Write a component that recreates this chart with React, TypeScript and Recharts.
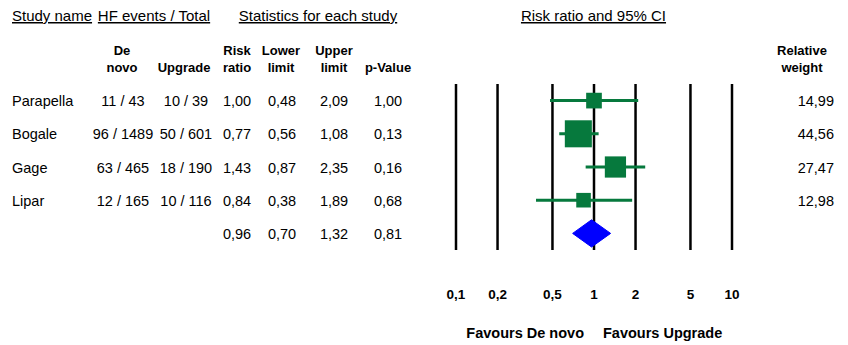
import React from "react";
import {
  ComposedChart,
  Scatter,
  ErrorBar,
  Area,
  XAxis,
  YAxis,
  ZAxis,
  CartesianGrid,
} from "recharts";

/* ================================================================
   Forest plot -- HF events, De novo vs Upgrade (risk ratio, 95% CI)
   ================================================================ */

const studies = ["Parapella", "Bogale", "Gage", "Lipar"];
const deNovoEvents = [11, 96, 63, 12];
const deNovoTotal = [43, 1489, 465, 165];
const upgradeEvents = [10, 50, 18, 10];
const upgradeTotal = [39, 601, 190, 116];
const riskRatio = [1.0, 0.77, 1.43, 0.84];
const lowerLimit = [0.48, 0.56, 0.87, 0.38];
const upperLimit = [2.09, 1.08, 2.35, 1.89];
const pValue = [1.0, 0.13, 0.16, 0.68];
const relativeWeight = [14.99, 44.56, 27.47, 12.98];

const summaryRatio = 0.96;
const summaryLower = 0.7;
const summaryUpper = 1.32;
const summaryP = 0.81;

const xTicks = [0.1, 0.2, 0.5, 1, 2, 5, 10];

/* ── layout ─────────────────────────────────────────────────── */

const W = 848;
const H = 345;
const PLOT = { left: 456, right: 732, top: 84, bottom: 250 };
const ROWS = 5;
const rowY = (i: number) =>
  PLOT.top + (i + 0.5) * ((PLOT.bottom - PLOT.top) / ROWS);

const GREEN = "#06793d";
const BLUE = "#0000ff";
const FONT = "'Liberation Sans', Arial, sans-serif";
const DIAMOND_HALF = 0.41; // half height of the summary diamond, in row units

const fmt = (v: number) => v.toFixed(2).replace(".", ",");

/* ── chart tables built from the arrays ─────────────────────── */

const studyPoints = studies.map((name, i) => ({
  name,
  x: riskRatio[i],
  y: i,
  weight: relativeWeight[i],
  err: [riskRatio[i] - lowerLimit[i], upperLimit[i] - riskRatio[i]],
}));

const summaryRow = studies.length;
const diamond = [
  { x: summaryLower, band: [summaryRow, summaryRow] },
  {
    x: summaryRatio,
    band: [summaryRow - DIAMOND_HALF, summaryRow + DIAMOND_HALF],
  },
  { x: summaryUpper, band: [summaryRow, summaryRow] },
];

/* ── tick ───────────────────────────────────────────────────── */

const RatioTick = (props: any) => {
  const { x, y, payload } = props;
  return (
    <text
      x={x}
      y={y + 40.5}
      textAnchor="middle"
      fontFamily={FONT}
      fontSize={13.5}
      fontWeight="bold"
      fill="#000"
    >
      {String(payload.value).replace(".", ",")}
    </text>
  );
};

/* ── table text ─────────────────────────────────────────────── */

const TableText: React.FC = () => {
  const reg = { fontFamily: FONT, fontSize: 14.5, fill: "#000" };
  const title = { ...reg, fontSize: 15, textDecoration: "underline" };
  const bold = { fontFamily: FONT, fontSize: 13, fontWeight: "bold", fill: "#000" };
  const head = (x: number, l1: string, l2: string) => (
    <g key={l1 + l2}>
      {l1 && (
        <text x={x} y={54.5} textAnchor="middle" {...bold}>
          {l1}
        </text>
      )}
      <text x={x} y={72} textAnchor="middle" {...bold}>
        {l2}
      </text>
    </g>
  );

  return (
    <svg
      width={W}
      height={H}
      style={{ position: "absolute", left: 0, top: 0, pointerEvents: "none" }}
    >
      {/* group titles */}
      <text x={12} y={21} {...title}>
        Study name
      </text>
      <text x={154} y={21} textAnchor="middle" {...title}>
        HF events / Total
      </text>
      <text x={318} y={21} textAnchor="middle" {...title}>
        Statistics for each study
      </text>
      <text x={593.5} y={21} textAnchor="middle" {...title}>
        Risk ratio and 95% CI
      </text>

      {/* column headers */}
      {head(122, "De", "novo")}
      {head(184, "", "Upgrade")}
      {head(237, "Risk", "ratio")}
      {head(281, "Lower", "limit")}
      {head(334, "Upper", "limit")}
      {head(388, "", "p-Value")}
      {head(802, "Relative", "weight")}

      {/* study rows */}
      {studies.map((name, i) => {
        const y = rowY(i) + 5.5;
        return (
          <g key={name}>
            <text x={12} y={y} {...reg}>
              {name}
            </text>
            <text x={123} y={y} textAnchor="middle" {...reg}>
              {`${deNovoEvents[i]} / ${deNovoTotal[i]}`}
            </text>
            <text x={186} y={y} textAnchor="middle" {...reg}>
              {`${upgradeEvents[i]} / ${upgradeTotal[i]}`}
            </text>
            <text x={237} y={y} textAnchor="middle" {...reg}>
              {fmt(riskRatio[i])}
            </text>
            <text x={282} y={y} textAnchor="middle" {...reg}>
              {fmt(lowerLimit[i])}
            </text>
            <text x={334} y={y} textAnchor="middle" {...reg}>
              {fmt(upperLimit[i])}
            </text>
            <text x={388} y={y} textAnchor="middle" {...reg}>
              {fmt(pValue[i])}
            </text>
            <text x={834} y={y} textAnchor="end" {...reg}>
              {fmt(relativeWeight[i])}
            </text>
          </g>
        );
      })}

      {/* summary row */}
      <text x={237} y={rowY(summaryRow) + 5.5} textAnchor="middle" {...reg}>
        {fmt(summaryRatio)}
      </text>
      <text x={282} y={rowY(summaryRow) + 5.5} textAnchor="middle" {...reg}>
        {fmt(summaryLower)}
      </text>
      <text x={334} y={rowY(summaryRow) + 5.5} textAnchor="middle" {...reg}>
        {fmt(summaryUpper)}
      </text>
      <text x={388} y={rowY(summaryRow) + 5.5} textAnchor="middle" {...reg}>
        {fmt(summaryP)}
      </text>

      {/* favours labels */}
      <text x={584} y={338} textAnchor="end" {...bold} fontSize={14.5}>
        Favours De novo
      </text>
      <text x={603} y={338} {...bold} fontSize={14.5}>
        Favours Upgrade
      </text>
    </svg>
  );
};

/* ── component ──────────────────────────────────────────────── */

const App: React.FC = () => {
  return (
    <div
      style={{
        position: "absolute",
        left: 0,
        top: 0,
        width: W,
        height: H,
        background: "#fff",
      }}
    >
      <ComposedChart
        width={W}
        height={H}
        data={diamond}
        margin={{
          top: PLOT.top,
          left: PLOT.left,
          right: W - PLOT.right,
          bottom: H - PLOT.bottom - 40,
        }}
      >
        <CartesianGrid
          vertical
          horizontal={false}
          stroke="#000"
          strokeWidth={2.5}
        />
        <XAxis
          dataKey="x"
          type="number"
          scale="log"
          domain={[0.1, 10]}
          ticks={xTicks}
          allowDataOverflow
          axisLine={false}
          tickLine={false}
          height={40}
          tick={<RatioTick />}
        />
        <YAxis
          dataKey="y"
          type="number"
          domain={[-0.5, ROWS - 0.5]}
          reversed
          hide
          allowDataOverflow
        />
        <ZAxis dataKey="weight" type="number" domain={[0, 100]} range={[0, 1640]} />

        <Area
          dataKey="band"
          type="linear"
          stroke={BLUE}
          strokeWidth={1}
          fill={BLUE}
          fillOpacity={1}
          dot={false}
          activeDot={false}
          isAnimationActive={false}
        />

        <Scatter
          data={studyPoints}
          shape="square"
          fill={GREEN}
          isAnimationActive={false}
        >
          <ErrorBar
            dataKey="err"
            direction="x"
            width={0}
            stroke={GREEN}
            strokeWidth={3}
            isAnimationActive={false}
          />
        </Scatter>
      </ComposedChart>
      <TableText />
    </div>
  );
};

export default App;
